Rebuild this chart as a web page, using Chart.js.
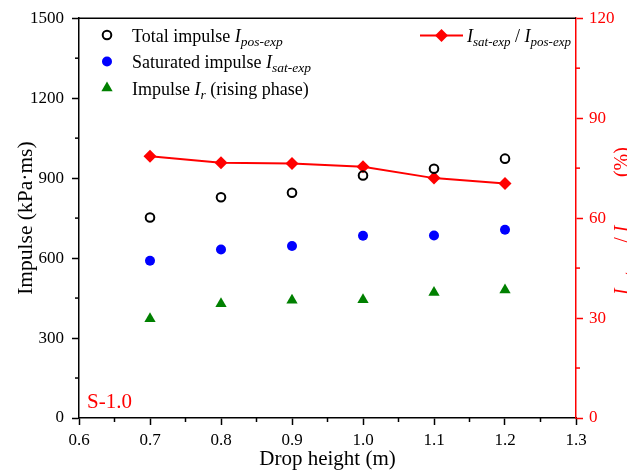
<!DOCTYPE html>
<html><head><meta charset="utf-8">
<script src="https://cdn.jsdelivr.net/npm/chart.js@4/dist/chart.umd.min.js"></script>
<style>html,body{margin:0;padding:0;background:#fff}#wrap{width:627px;height:475px}</style>
</head><body><div id="wrap"><canvas id="c" width="627" height="475"></canvas></div>
<script>
// ---- data ----
const dropHeights = [0.7, 0.8, 0.9, 1.0, 1.1, 1.2];
const totalImpulse = [752, 828, 845, 910, 935, 973];
const saturatedImpulse = [590, 632, 645, 684, 685, 706];
const risingImpulse = [372, 429, 442, 444, 471, 480];
const ratioPercent = [78.6, 76.6, 76.4, 75.4, 72.0, 70.4];
const xTicksRange = [0.6, 1.3];
const yTicksRange = [0, 1500];
const y1TicksRange = [0, 120];

const FONT = '"Liberation Serif", "Times New Roman", serif';
const pts = (ys) => dropHeights.map((x, i) => ({x: x, y: ys[i]}));

function drawRich(ctx, x, y, parts, color) {
  ctx.fillStyle = color;
  ctx.textBaseline = 'alphabetic';
  ctx.textAlign = 'left';
  let cx = x;
  for (const p of parts) {
    ctx.font = (p.italic ? 'italic ' : '') + p.size + 'px ' + FONT;
    ctx.fillText(p.t, cx, y + (p.dy || 0));
    cx += ctx.measureText(p.t).width;
  }
  return cx - x;
}
function richWidth(ctx, parts) {
  let w = 0;
  for (const p of parts) {
    ctx.font = (p.italic ? 'italic ' : '') + p.size + 'px ' + FONT;
    w += ctx.measureText(p.t).width;
  }
  return w;
}

const extras = {
  id: 'extras',
  afterDraw(chart) {
    const ctx = chart.ctx;
    const a = chart.chartArea;
    const sx = chart.scales.x, sy = chart.scales.y, sy1 = chart.scales.y1;
    ctx.save();
    // minor ticks
    const minor = (scale, cb) => {
      const t = scale.ticks;
      for (let i = 0; i < t.length - 1; i++) cb(scale.getPixelForValue((t[i].value + t[i + 1].value) / 2));
    };
    ctx.lineWidth = 1.5;
    ctx.strokeStyle = '#000';
    minor(sx, p => { ctx.beginPath(); ctx.moveTo(p, a.bottom); ctx.lineTo(p, a.bottom + 4); ctx.stroke(); });
    minor(sy, p => { ctx.beginPath(); ctx.moveTo(a.left, p); ctx.lineTo(a.left - 4, p); ctx.stroke(); });
    ctx.strokeStyle = '#ff0000';
    minor(sy1, p => { ctx.beginPath(); ctx.moveTo(a.right, p); ctx.lineTo(a.right + 4, p); ctx.stroke(); });
    // top border
    ctx.strokeStyle = '#000';
    ctx.beginPath(); ctx.moveTo(a.left, a.top); ctx.lineTo(a.right, a.top); ctx.stroke();

    // left legend
    const lx = 107, ty = [35, 61.5, 88];
    ctx.lineWidth = 2; ctx.strokeStyle = '#000';
    ctx.beginPath(); ctx.arc(lx, ty[0], 4.3, 0, Math.PI * 2); ctx.stroke();
    ctx.fillStyle = '#0000ff';
    ctx.beginPath(); ctx.arc(lx, ty[1], 5, 0, Math.PI * 2); ctx.fill();
    ctx.fillStyle = '#008000';
    const r = 6.5;
    ctx.beginPath();
    ctx.moveTo(lx, ty[2] - r);
    ctx.lineTo(lx + r * Math.sin(2 * Math.PI / 3), ty[2] + r / 2);
    ctx.lineTo(lx - r * Math.sin(2 * Math.PI / 3), ty[2] + r / 2);
    ctx.closePath(); ctx.fill();

    const tx = 132, base = 6.5, ss = 13.5;
    drawRich(ctx, tx, ty[0] + base, [
      {t: 'Total impulse ', size: 18}, {t: 'I', size: 18, italic: true},
      {t: 'pos-exp', size: ss, italic: true, dy: 4}], '#000');
    drawRich(ctx, tx, ty[1] + base, [
      {t: 'Saturated impulse ', size: 18}, {t: 'I', size: 18, italic: true},
      {t: 'sat-exp', size: ss, italic: true, dy: 4}], '#000');
    drawRich(ctx, tx, ty[2] + base, [
      {t: 'Impulse ', size: 18}, {t: 'I', size: 18, italic: true},
      {t: 'r', size: ss, italic: true, dy: 4}, {t: ' (rising phase)', size: 18}], '#000');

    // right legend
    const ry = 35.5;
    ctx.strokeStyle = '#ff0000'; ctx.lineWidth = 2;
    ctx.beginPath(); ctx.moveTo(420, ry); ctx.lineTo(463, ry); ctx.stroke();
    ctx.fillStyle = '#ff0000';
    const d = 6.5, dc = 441.5;
    ctx.beginPath(); ctx.moveTo(dc, ry - d); ctx.lineTo(dc + d, ry); ctx.lineTo(dc, ry + d); ctx.lineTo(dc - d, ry); ctx.closePath(); ctx.fill();
    drawRich(ctx, 467, ry + base, [
      {t: 'I', size: 18, italic: true}, {t: 'sat-exp', size: 13, italic: true, dy: 4},
      {t: ' / ', size: 18}, {t: 'I', size: 18, italic: true},
      {t: 'pos-exp', size: 13, italic: true, dy: 4}], '#000');

    // sample label
    ctx.font = '21px ' + FONT;
    ctx.fillStyle = '#ff0000';
    ctx.textAlign = 'left'; ctx.textBaseline = 'alphabetic';
    ctx.fillText('S-1.0', 87, 408);

    // right axis title (rotated, partly outside canvas)
    const tparts = [
      {t: 'I', size: 20, italic: true}, {t: 'sat-exp', size: 14, italic: true, dy: 6},
      {t: ' / ', size: 20}, {t: 'I', size: 20, italic: true},
      {t: 'pos-exp', size: 14, italic: true, dy: 6}, {t: ' (%)', size: 20}];
    const w = richWidth(ctx, tparts);
    ctx.translate(628, 221);
    ctx.rotate(-Math.PI / 2);
    drawRich(ctx, -w / 2, 0, tparts, '#ff0000');
    ctx.restore();
  }
};

const tickFont = {family: FONT, size: 17};
new Chart(document.getElementById('c'), {
  type: 'line',
  data: {
    datasets: [
      {label: 'Total impulse', data: pts(totalImpulse), yAxisID: 'y', showLine: false,
       pointStyle: 'circle', pointRadius: 4.3, pointBorderWidth: 2, borderColor: '#000',
       pointBorderColor: '#000', pointBackgroundColor: 'rgba(0,0,0,0)'},
      {label: 'Saturated impulse', data: pts(saturatedImpulse), yAxisID: 'y', showLine: false,
       pointStyle: 'circle', pointRadius: 5, pointBorderWidth: 0, borderColor: '#0000ff',
       pointBackgroundColor: '#0000ff'},
      {label: 'Impulse Ir', data: pts(risingImpulse), yAxisID: 'y', showLine: false,
       pointStyle: 'triangle', pointRadius: 6.5, pointBorderWidth: 0, borderColor: '#008000',
       pointBackgroundColor: '#008000'},
      {label: 'ratio', data: pts(ratioPercent), yAxisID: 'y1', showLine: true,
       borderColor: '#ff0000', borderWidth: 2, tension: 0,
       pointStyle: 'rectRot', pointRadius: 6.5, pointBorderWidth: 0,
       pointBackgroundColor: '#ff0000', pointBorderColor: '#ff0000'}
    ]
  },
  options: {
    responsive: false, animation: false, devicePixelRatio: 1,
    layout: {padding: {top: 18, left: 0, right: 0, bottom: 0}},
    plugins: {legend: {display: false}, tooltip: {enabled: false}},
    scales: {
      x: {type: 'linear', position: 'bottom', min: xTicksRange[0], max: xTicksRange[1],
        ticks: {stepSize: 0.1, font: tickFont, color: '#000', padding: 5,
          callback: v => Number(v).toFixed(1), maxRotation: 0},
        grid: {drawOnChartArea: false, tickLength: 7, tickColor: '#000', tickWidth: 1.5},
        border: {color: '#000', width: 1.5},
        title: {display: true, text: 'Drop height (m)', font: {family: FONT, size: 21}, color: '#000', padding: {top: 0, bottom: 3}},
        afterFit: s => { s.height = 57; }},
      y: {type: 'linear', position: 'left', min: yTicksRange[0], max: yTicksRange[1],
        ticks: {stepSize: 300, font: tickFont, color: '#000', padding: 8, callback: v => String(v)},
        grid: {drawOnChartArea: false, tickLength: 7, tickColor: '#000', tickWidth: 1.5},
        border: {color: '#000', width: 1.5},
        title: {display: true, text: 'Impulse (kPa·ms)', font: {family: FONT, size: 21.5}, color: '#000', padding: {top: 13, bottom: 0}},
        afterFit: s => { s.width = 79; }},
      y1: {type: 'linear', position: 'right', min: y1TicksRange[0], max: y1TicksRange[1],
        ticks: {stepSize: 30, font: tickFont, color: '#ff0000', padding: 6, callback: v => String(v)},
        grid: {drawOnChartArea: false, tickLength: 7, tickColor: '#ff0000', tickWidth: 1.5},
        border: {color: '#ff0000', width: 1.5},
        afterFit: s => { s.width = 51; }}
    }
  },
  plugins: [extras]
});
</script>
</body></html>
